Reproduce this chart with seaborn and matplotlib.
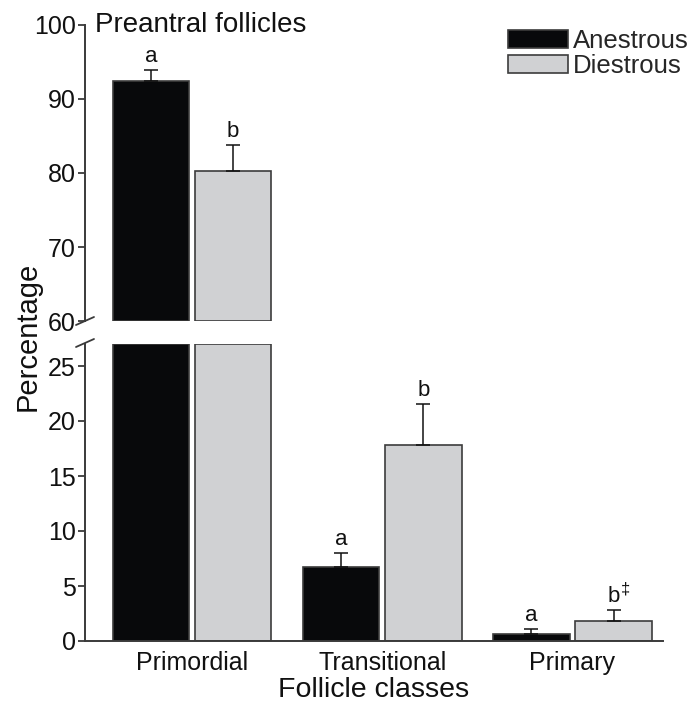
import matplotlib
matplotlib.use("Agg")
import matplotlib.pyplot as plt
import seaborn as sns
import pandas as pd

categories = ["Primordial", "Transitional", "Primary"]
groups = ["Anestrous", "Diestrous"]
anestrous = [92.5, 6.75, 0.67]
diestrous = [80.3, 17.84, 1.8]
anestrous_sem = [1.4, 1.25, 0.4]
diestrous_sem = [3.5, 3.7, 1.0]
anestrous_letters = ["a", "a", "a"]
diestrous_letters = ["b", "b", "b"]
diestrous_marks = ["", "", "‡"]

sns.set_theme(style="white")
plt.rcParams['font.family'] = ['Liberation Sans', 'DejaVu Sans']

df = pd.DataFrame({
    "cls": categories * 2,
    "group": [groups[0]] * 3 + [groups[1]] * 3,
    "value": anestrous + diestrous,
})
sems = {groups[0]: anestrous_sem, groups[1]: diestrous_sem}
letters = {groups[0]: anestrous_letters, groups[1]: diestrous_letters}
marks = {groups[0]: ["", "", ""], groups[1]: diestrous_marks}

palette = {"Anestrous": "#08090b", "Diestrous": "#d0d1d3"}
edge = "#3c3c3c"
spine_c = "#3a3a3a"
txt = "#111111"

fig = plt.figure(figsize=(6.91, 7.04), dpi=100)
L, R = 85 / 691, 663 / 691
ax_top = fig.add_axes([L, 1 - 321 / 704, R - L, (321 - 25) / 704])
ax_bot = fig.add_axes([L, 1 - 641 / 704, R - L, (641 - 344) / 704])

for ax, (lo, hi) in [(ax_top, (60, 100)), (ax_bot, (0, 27))]:
    sns.barplot(data=df, x="cls", y="value", hue="group", hue_order=groups,
                order=categories, palette=palette, errorbar=None,
                width=0.865, gap=0.07, edgecolor=edge, linewidth=1.2,
                ax=ax, legend=False)
    ax.set_ylim(lo, hi)
    ax.set_xlim(-0.563, 2.476)
    for p in ax.patches:
        top = p.get_y() + p.get_height()
        if top > lo:
            p.set_y(lo)
            p.set_height(min(top, hi) - lo)
    for cont, g in zip(ax.containers, groups):
        for i, bar in enumerate(cont.patches):
            x = bar.get_x() + bar.get_width() / 2
            y = df[(df.group == g)]["value"].values[i]
            s = sems[g][i]
            ax.errorbar([x], [y], yerr=[[0], [s]], fmt="none", ecolor=txt,
                        elinewidth=1.1, capsize=4.7, capthick=1.1, zorder=1)
            ax.annotate(letters[g][i], xy=(x, y + s), xytext=(0, 2),
                        textcoords="offset points", ha="center", va="bottom",
                        fontsize=16, color=txt)
            if marks[g][i]:
                ax.annotate(marks[g][i], xy=(x, y + s), xytext=(5, 10),
                            textcoords="offset points", ha="left", va="bottom",
                            fontsize=12, color=txt)
    ax.set_ylabel("")
    ax.set_xlabel("")
    for sp in ["top", "right"]:
        ax.spines[sp].set_visible(False)
    ax.spines["left"].set_color(spine_c)
    ax.spines["left"].set_linewidth(1.4)
    ax.tick_params(axis="y", which="both", left=True, length=5, width=1.3,
                   color=spine_c, labelsize=18, pad=1.5, labelcolor=txt)

ax_top.spines["bottom"].set_visible(False)
ax_top.set_xticks([])
ax_top.set_yticks([60, 70, 80, 90, 100])
ax_bot.set_yticks([0, 5, 10, 15, 20, 25])
ax_bot.spines["bottom"].set_color(spine_c)
ax_bot.spines["bottom"].set_linewidth(1.4)
ax_bot.tick_params(axis="x", bottom=False, labelsize=18, pad=1.5, labelcolor=txt)

fig.text((L + R) / 2, 1 - 690 / 704, "Follicle classes", ha="center",
         va="center", fontsize=20.5, color=txt)

# break marks
kw = dict(transform=fig.transFigure, color=spine_c, lw=1.3, clip_on=False)
for yc in (321, 343):
    fig.add_artist(plt.Line2D([76 / 691, 94 / 691],
                              [1 - (yc + 4) / 704, 1 - (yc - 4) / 704], **kw))

fig.text(28 / 691, 1 - 336 / 704, "Percentage", rotation=90, ha="center",
         va="center", fontsize=21, color=txt)
ax_top.text(0.017, 1.0, "Preantral follicles", transform=ax_top.transAxes,
            ha="left", va="center", fontsize=20, color=txt)

handles = [plt.Rectangle((0, 0), 1, 1, facecolor=palette[g], edgecolor=edge, lw=1.2)
           for g in groups]
fig.legend(handles, groups, loc="upper right", bbox_to_anchor=(1.0, 1 - 26 / 704),
           frameon=False, fontsize=18.5, handlelength=2.3, handleheight=0.7,
           handletextpad=0.2, labelspacing=0.05, borderpad=0.1, borderaxespad=0)

fig.savefig("out.png", dpi=100, facecolor="white")
